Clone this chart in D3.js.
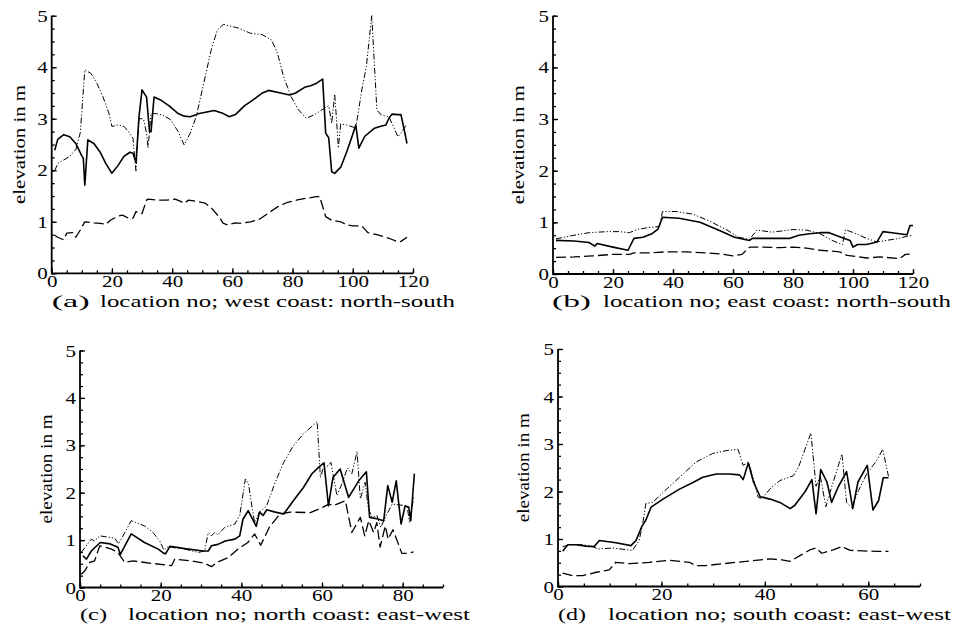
<!DOCTYPE html>
<html>
<head>
<meta charset="utf-8">
<script src="https://cdnjs.cloudflare.com/ajax/libs/d3/7.8.5/d3.min.js"></script>
<style>
  body { margin: 0; background: #fff; }
</style>
</head>
<body>
<script>
// Data: [location no, elevation in m]

// (a) west coast
var westSolid = [[1,2.39],[2,2.6],[4,2.69],[6,2.65],[8,2.52],[10,2.28],[10.5,2.23],[11,1.71],[12,2.59],[14,2.52],[16,2.36],[18,2.13],[20,1.94],[22,2.09],[24,2.27],[26,2.35],[27,2.33],[28,2.15],[29,3.04],[30,3.56],[31.5,3.42],[32.5,2.75],[33,2.75],[34,3.42],[36,3.37],[39,3.25],[42,3.1],[44,3.05],[46,3.04],[49,3.1],[54,3.16],[57,3.1],[59,3.04],[61,3.08],[64,3.25],[67,3.37],[70,3.5],[72,3.55],[76,3.5],[79,3.46],[81,3.5],[84,3.61],[86,3.64],[88,3.69],[90,3.77],[91,2.72],[92,2.63],[93,1.97],[94,1.94],[96,2.06],[98,2.36],[100,2.7],[101,2.88],[102,2.43],[104,2.66],[107,2.81],[109,2.85],[111,2.88],[112,3.01],[113,3.09],[115,3.08],[116,3.08],[117,2.81],[118,2.52]];
var westDashed = [[1,0.74],[2,0.7],[4,0.65],[5,0.78],[7,0.79],[8,0.7],[9.5,0.84],[11,1.0],[14,0.98],[16,0.97],[18,0.95],[19.5,1.03],[22,1.11],[23.5,1.13],[25.5,1.07],[27,1.07],[28,1.2],[29,1.16],[30,1.16],[31.5,1.42],[32,1.44],[35,1.42],[38,1.42],[41,1.44],[43,1.39],[44,1.36],[45.5,1.42],[48,1.4],[51,1.36],[53,1.27],[55.5,1.1],[57,0.97],[58.5,0.94],[61,0.98],[63,0.97],[66,1.0],[69,1.05],[72,1.17],[75,1.29],[78,1.37],[82,1.43],[85,1.46],[88,1.49],[89,1.49],[91,1.1],[93,1.03],[96,1.0],[98,0.94],[100,0.92],[103,0.92],[105,0.79],[108,0.75],[112,0.68],[115,0.61],[116,0.62],[118,0.7]];
var westDashDot = [[1,1.99],[2,2.13],[4,2.2],[6,2.27],[8,2.4],[9.5,2.73],[11,3.95],[13,3.88],[15,3.69],[17,3.43],[19,3.11],[20,2.85],[22,2.88],[24,2.85],[25.5,2.75],[27,2.62],[28,1.97],[29,3.01],[30.5,2.99],[31.5,2.72],[32,2.43],[33,3.1],[34.5,3.1],[37,3.07],[39.5,2.98],[42,2.75],[44,2.49],[46,2.72],[48,3.04],[50.5,3.69],[53,4.34],[55,4.72],[57,4.83],[62,4.76],[66,4.66],[70,4.63],[73,4.53],[75,4.27],[77,3.82],[79.5,3.43],[82,3.17],[84.5,3.01],[87,3.07],[90.5,3.2],[92,3.25],[93,2.91],[94,3.48],[94.7,2.9],[95.2,2.43],[96,2.9],[98,2.88],[101,2.82],[103,3.56],[104.5,4.01],[106.3,5.0],[108,3.17],[109.5,3.07],[112,3.04],[115,2.65],[116,2.72],[118,2.9]];

// (b) east coast
var eastSolid = [[1,0.65],[7,0.64],[12,0.61],[14,0.54],[14.7,0.59],[20,0.52],[25,0.46],[27,0.69],[30,0.71],[33,0.78],[35,0.87],[36.5,1.1],[42,1.08],[49,1.0],[55.5,0.84],[60.5,0.71],[65.5,0.65],[66.5,0.69],[72,0.69],[79,0.69],[82,0.75],[85.5,0.78],[89,0.8],[92,0.8],[96,0.71],[99,0.65],[100,0.52],[101.5,0.57],[104.5,0.57],[108,0.62],[110,0.82],[113,0.8],[118,0.76],[119,0.94],[120,0.94]];
var eastDashed = [[1,0.32],[7,0.33],[13,0.35],[20,0.38],[25.5,0.38],[27,0.41],[33,0.41],[38,0.43],[44,0.43],[51,0.41],[55.5,0.39],[60,0.35],[63,0.38],[65.5,0.52],[69,0.52],[75.5,0.51],[80,0.52],[84.5,0.5],[89,0.46],[95.5,0.43],[98,0.36],[102,0.33],[104.5,0.31],[109,0.33],[115.5,0.3],[117.5,0.38],[120,0.39]];
var eastDashDot = [[1,0.68],[7,0.75],[12,0.8],[18,0.82],[22,0.82],[25.5,0.8],[28,0.86],[32,0.9],[35.5,0.92],[36.5,1.21],[41,1.21],[46.5,1.16],[52,1.03],[58,0.85],[62,0.71],[65.5,0.67],[68,0.85],[73,0.81],[80,0.86],[84.5,0.85],[89,0.78],[93,0.65],[96.5,0.57],[97.5,0.86],[101,0.78],[104.5,0.69],[108,0.62],[111,0.65],[114.5,0.68],[118,0.73],[120,0.75]];

// (c) north coast
var northSolid = [[0.7,0.67],[1.6,0.6],[2.8,0.77],[5,0.95],[7.5,0.92],[9.4,0.85],[10,0.7],[12.7,1.13],[16,0.95],[19.4,0.81],[20.8,0.72],[21.2,0.71],[22.3,0.87],[26,0.82],[30.5,0.77],[31.8,0.77],[32.6,0.88],[34.2,0.91],[36,0.98],[38.4,1.02],[39.6,1.09],[40.4,1.44],[41.7,1.62],[43.7,1.29],[44.5,1.59],[45.4,1.52],[46.3,1.64],[48.4,1.59],[50.5,1.55],[52.9,1.83],[55.4,2.11],[57.5,2.4],[59.2,2.54],[60.5,2.63],[61.6,1.72],[62.7,2.32],[64.5,2.5],[66.6,1.9],[69.1,2.25],[71,2.44],[71.8,1.48],[73.6,1.45],[75.3,1.41],[76.3,2.15],[77.4,1.8],[78.4,2.25],[79.6,1.34],[80.6,1.72],[81.5,1.7],[82,1.41],[82.9,2.4]];
var northDashed = [[0.3,0.28],[1.2,0.35],[2.4,0.53],[3.6,0.56],[4.9,0.88],[7.8,0.81],[9.4,0.74],[11.1,0.53],[13.2,0.56],[17.7,0.51],[22.7,0.46],[23.5,0.6],[27.6,0.56],[30.9,0.51],[32.6,0.44],[34.2,0.54],[36.7,0.63],[39.2,0.81],[41.6,0.95],[43.3,1.13],[44.8,0.89],[47,1.28],[49.6,1.55],[52.1,1.59],[57.1,1.58],[59.6,1.67],[61.7,1.76],[62.9,1.73],[65.8,1.83],[67.4,1.16],[69.5,1.48],[70.6,1.09],[71.6,1.41],[72.8,1.16],[73.6,1.37],[74.4,0.85],[75.7,1.3],[76.4,1.02],[77.6,1.22],[79.8,0.72],[81,0.72],[82.7,0.75]];
var northDashDot = [[0.3,0.74],[2.8,1.02],[3.6,0.98],[4.9,1.09],[8.6,1.04],[9.6,0.92],[12.7,1.41],[16,1.3],[18.1,1.16],[19.8,0.98],[20.8,0.79],[21.8,0.86],[26,0.81],[29.3,0.74],[30.9,0.77],[31.8,1.16],[32.6,1.09],[33.4,1.16],[34.2,1.11],[35.9,1.27],[38.4,1.34],[39.6,1.52],[41,2.29],[41.8,2.18],[42.6,1.72],[43.3,1.37],[44.5,1.59],[46.3,1.73],[48.4,2.22],[50.5,2.64],[52.9,2.99],[55.4,3.24],[57.5,3.4],[58.8,3.5],[59.6,2.32],[60.4,2.54],[61.6,2.57],[62.2,2.64],[63.7,1.94],[64.9,2.18],[66.3,2.52],[67.4,2.4],[68.7,2.87],[69.5,1.87],[70.7,2.22],[71.5,1.66],[72.4,1.48],[73.6,1.52],[74.6,1.27],[75.7,1.48],[77.4,1.76],[79.4,1.74],[81.1,1.72],[81.7,1.37],[82.8,1.94]];

// (d) south coast
var southSolid = [[0.9,0.74],[1.9,0.88],[3.5,0.88],[5.4,0.85],[7,0.84],[8,0.97],[11.2,0.92],[14.1,0.86],[15.1,0.97],[16.2,1.26],[17,1.4],[18,1.67],[20.3,1.84],[23.5,2.05],[26.1,2.19],[28,2.3],[30.6,2.37],[33.1,2.37],[35.1,2.35],[35.8,2.25],[36.8,2.6],[37.8,2.2],[39.1,1.89],[41,1.84],[42.9,1.77],[44.9,1.64],[45.8,1.71],[47.8,2.0],[49.1,2.25],[49.9,1.53],[50.8,2.46],[52,2.2],[52.9,1.77],[54.2,2.1],[55.8,2.42],[57,1.64],[58,2.2],[59.8,2.55],[60.9,1.61],[62,1.81],[62.9,2.29],[63.9,2.29]];
var southDashed = [[0.9,0.28],[2.8,0.23],[4.8,0.23],[7.4,0.3],[9.9,0.35],[11.2,0.51],[13.8,0.48],[17.7,0.51],[21.5,0.55],[25.4,0.51],[26.7,0.44],[28.6,0.44],[31.9,0.48],[36.4,0.53],[41,0.58],[43.3,0.56],[44.9,0.53],[46.8,0.65],[48.7,0.77],[49.9,0.81],[51,0.7],[53.2,0.77],[54.9,0.84],[56.5,0.76],[59,0.75],[61.6,0.74],[63.9,0.74]];
var southDashDot = [[0.9,0.84],[2.2,0.88],[4.8,0.88],[6.7,0.84],[7.7,0.79],[10.6,0.81],[14.4,0.76],[15.7,0.97],[16.5,1.39],[17,1.75],[18.3,1.77],[20.3,1.98],[23.5,2.3],[26.7,2.62],[29.9,2.8],[32.5,2.86],[34.8,2.89],[35.8,2.55],[36.8,2.62],[37.8,2.27],[38.7,1.88],[39.4,1.85],[41.3,2.09],[42.9,2.23],[45.5,2.33],[46.5,2.51],[48.9,3.23],[49.9,2.11],[50.7,2.33],[51.8,1.68],[52.6,1.98],[54.9,2.79],[55.8,1.77],[56.8,1.66],[58.1,2.02],[59.7,2.37],[61.6,2.65],[62.8,2.89],[63.9,2.32]];

// Tick labels and captions
var yTicks = [0, 1, 2, 3, 4, 5];
var yLabel = "elevation in m";
var panelTags = ["(a)", "(b)", "(c)", "(d)"];
var panelCaptions = ["location no; west coast: north-south", "location no; east coast: north-south",
                     "location no; north coast: east-west", "location no; south coast: east-west"];

var serif = "Liberation Serif";

var svg = d3.select("body").append("svg").attr("width", 958).attr("height", 630);

// Line styles
var styles = [
    {width: 1.6, dash: null},
    {width: 1.3, dash: "10,4"},
    {width: 1.0, dash: "6,2,1.2,2,1.2,2"}
];

var panels = [
    {xMax: 120, left: 51.7, right: 413, top: 15.7, bottom: 273.3, series: [westSolid, westDashed, westDashDot],
     yl: {x: 25, len: 119}, tag: {x: 51.7, len: 38}, cap: {x: 100, len: 355}, capY: 306.5},
    {xMax: 120, left: 553, right: 913, top: 15.7, bottom: 274, series: [eastSolid, eastDashed, eastDashDot],
     yl: {x: 524, len: 119}, tag: {x: 552, len: 39}, cap: {x: 603, len: 348}, capY: 306.5},
    {xMax: 90, left: 80, right: 443, top: 350.5, bottom: 587.5, series: [northSolid, northDashed, northDashDot],
     yl: {x: 52, len: 109}, tag: {x: 80, len: 27}, cap: {x: 128, len: 342}, capY: 620},
    {xMax: 70, left: 558, right: 920, top: 349, bottom: 586.5, series: [southSolid, southDashed, southDashDot],
     yl: {x: 529, len: 109}, tag: {x: 558, len: 28}, cap: {x: 608, len: 343}, capY: 620}
];

panels.forEach(function(p, k) { drawPanel(p, k); });

function fitLabels(sel) {
    sel.selectAll("text")
        .attr("font-family", serif)
        .attr("font-size", 16)
        .attr("fill", "#000")
        .attr("textLength", function(d) { return String(d).length * 10.5; })
        .attr("lengthAdjust", "spacingAndGlyphs");
}

/**
 * Draw one panel: axes, minor ticks, labels and the three lines
 */
function drawPanel(p, k) {
    var x = d3.scaleLinear().domain([0, p.xMax]).range([p.left, p.right]);
    var y = d3.scaleLinear().domain([0, 5]).range([p.bottom, p.top]);
    var g = svg.append("g").attr("class", "panel" + k);

    // minor ticks
    g.append("g").attr("transform", "translate(0," + p.bottom + ")")
        .call(d3.axisBottom(x).tickValues(d3.range(0, p.xMax + 0.1, 5)).tickSize(-3).tickSizeOuter(0).tickFormat(""))
        .call(function(a) { a.select(".domain").remove(); });
    g.append("g").attr("transform", "translate(" + p.left + ",0)")
        .call(d3.axisLeft(y).tickValues(d3.range(0, 5.01, 0.25)).tickSize(-3).tickSizeOuter(0).tickFormat(""))
        .call(function(a) { a.select(".domain").remove(); });

    // major ticks + labels
    var xa = g.append("g").attr("transform", "translate(0," + p.bottom + ")")
        .call(d3.axisBottom(x).tickValues(d3.range(0, p.xMax + 0.1, 20)).tickSize(-5).tickSizeOuter(0)
            .tickFormat(d3.format("d")));
    xa.select(".domain").remove();
    xa.selectAll("text").attr("y", 13.5).attr("dy", 0);

    var ya = g.append("g").attr("transform", "translate(" + p.left + ",0)")
        .call(d3.axisLeft(y).tickValues(yTicks).tickSize(-5).tickSizeOuter(0).tickFormat(d3.format("d")));
    ya.select(".domain").remove();
    ya.selectAll("text").attr("x", -4).attr("dy", "0.35em");

    fitLabels(xa);
    fitLabels(ya);
    g.selectAll("line").attr("stroke", "#000").attr("stroke-width", 1.3);

    // axis lines
    g.append("line").attr("x1", p.left).attr("x2", p.right).attr("y1", p.bottom).attr("y2", p.bottom)
        .attr("stroke", "#000").attr("stroke-width", 1.8);
    g.append("line").attr("x1", p.left).attr("x2", p.left).attr("y1", p.bottom + 0.9).attr("y2", p.top)
        .attr("stroke", "#000").attr("stroke-width", 1.8);

    // lines
    var line = d3.line().x(function(d) { return x(d[0]); }).y(function(d) { return y(d[1]); });
    p.series.forEach(function(s, i) {
        g.append("path")
            .datum(s)
            .attr("d", line)
            .attr("fill", "none")
            .attr("stroke", "#000")
            .attr("stroke-width", styles[i].width)
            .attr("stroke-dasharray", styles[i].dash)
            .attr("stroke-linejoin", "round");
    });

    // y label
    var cy = (p.top + p.bottom) / 2;
    g.append("text")
        .attr("transform", "translate(" + p.yl.x + "," + cy + ") rotate(-90)")
        .attr("text-anchor", "middle")
        .attr("font-family", serif)
        .attr("font-size", 17)
        .attr("textLength", p.yl.len)
        .attr("lengthAdjust", "spacingAndGlyphs")
        .text(yLabel);

    // caption
    g.append("text")
        .attr("x", p.tag.x).attr("y", p.capY)
        .attr("font-family", serif).attr("font-size", 17)
        .attr("textLength", p.tag.len).attr("lengthAdjust", "spacingAndGlyphs")
        .text(panelTags[k]);
    g.append("text")
        .attr("x", p.cap.x).attr("y", p.capY)
        .attr("font-family", serif).attr("font-size", 17)
        .attr("textLength", p.cap.len).attr("lengthAdjust", "spacingAndGlyphs")
        .text(panelCaptions[k]);
}
</script>
</body>
</html>
